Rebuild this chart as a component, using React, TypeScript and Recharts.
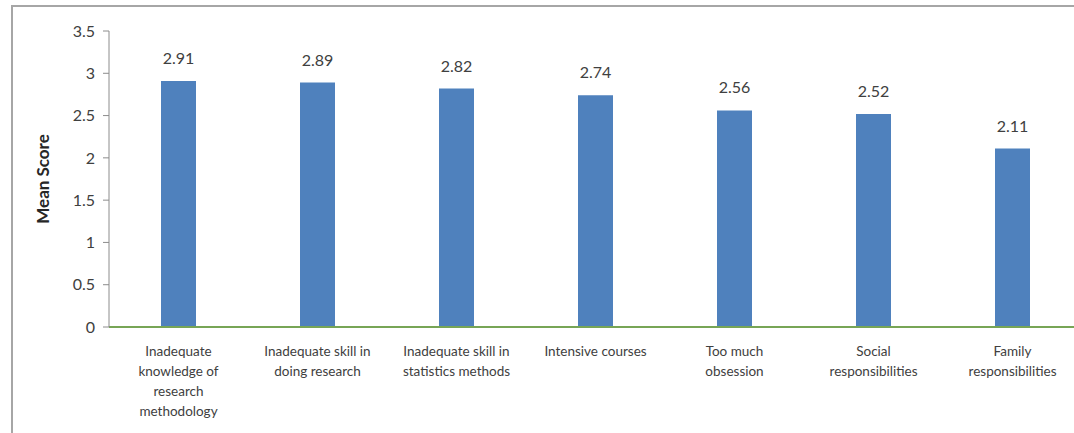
import { BarChart, Bar, XAxis, YAxis, LabelList } from 'recharts'

// ==================== || MEAN SCORE OF RESEARCH BARRIERS ||==================== //

const categories = [
    'Inadequate\nknowledge of\nresearch\nmethodology',
    'Inadequate skill in\ndoing research',
    'Inadequate skill in\nstatistics methods',
    'Intensive courses',
    'Too much\nobsession',
    'Social\nresponsibilities',
    'Family\nresponsibilities',
]

const meanScores = [2.91, 2.89, 2.82, 2.74, 2.56, 2.52, 2.11]

const yTicks = [0, 0.5, 1, 1.5, 2, 2.5, 3, 3.5]

const data = categories.map((name, i) => ({ name, score: meanScores[i] }))

const FONT = 'Lato, "Open Sans", sans-serif'

const CategoryTick = ({ x, y, payload }: any) => {
    const lines = String(payload.value).split('\n')
    return (
        <text
            x={x}
            y={y + 21}
            textAnchor="middle"
            fill="#404040"
            fontSize={13.5}
            fontFamily={FONT}
        >
            {lines.map((line, i) => (
                <tspan key={i} x={x} dy={i === 0 ? 0 : 20}>
                    {line}
                </tspan>
            ))}
        </text>
    )
}

const App = () => {
    return (
        <div
            style={{
                position: 'absolute',
                left: 0,
                top: 0,
                width: 1074,
                height: 433,
                overflow: 'hidden',
                background: '#fff',
            }}
        >
            <div
                style={{
                    position: 'absolute',
                    left: 11,
                    top: 5,
                    width: 1200,
                    height: 500,
                    borderLeft: '2px solid #a6a6a6',
                    borderTop: '2px solid #a6a6a6',
                }}
            />
            <div style={{ position: 'absolute', left: 0, top: 0 }}>
                <BarChart
                    width={1090}
                    height={433}
                    data={data}
                    margin={{ top: 31, right: 8, bottom: 0, left: 0 }}
                >
                    <XAxis
                        dataKey="name"
                        interval={0}
                        tick={<CategoryTick />}
                        tickLine={false}
                        axisLine={{ stroke: '#77a556', strokeWidth: 2 }}
                        height={106}
                    />
                    <YAxis
                        width={109}
                        domain={[0, 3.5]}
                        ticks={yTicks}
                        interval={0}
                        tick={{ fill: '#404040', fontSize: 16, fontFamily: FONT }}
                        tickLine={{ stroke: '#8c8c8c' }}
                        tickSize={6}
                        tickMargin={8}
                        axisLine={{ stroke: '#8c8c8c' }}
                        label={{
                            value: 'Mean Score',
                            angle: -90,
                            position: 'insideLeft',
                            dx: 38,
                            fill: '#262626',
                            fontSize: 17,
                            fontWeight: 700,
                            fontFamily: FONT,
                            style: { textAnchor: 'middle' },
                        }}
                    />
                    <Bar
                        dataKey="score"
                        fill="#4f81bd"
                        barSize={35}
                        isAnimationActive={false}
                    >
                        <LabelList
                            dataKey="score"
                            position="top"
                            offset={17}
                            fill="#404040"
                            fontSize={16}
                            fontFamily={FONT}
                            formatter={(v: any) => Number(v).toFixed(2)}
                        />
                    </Bar>
                </BarChart>
            </div>
        </div>
    )
}

export default App
